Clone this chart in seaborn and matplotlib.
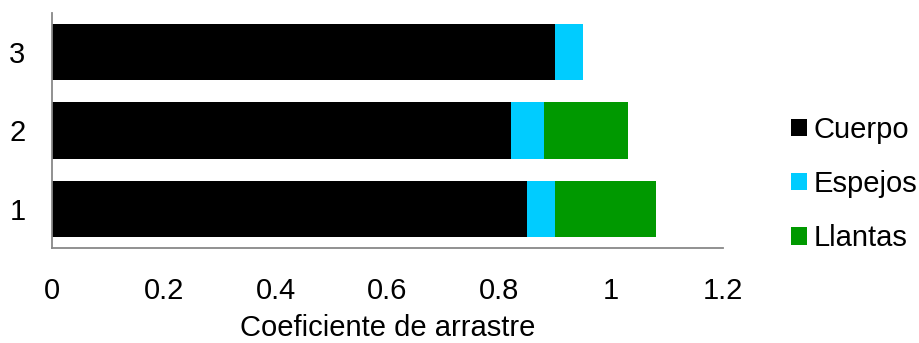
import numpy as np
import pandas as pd
import matplotlib
matplotlib.use("Agg")
import matplotlib.pyplot as plt
from matplotlib.patches import Patch
import seaborn as sns

sns.set_style("white")
plt.rcParams['font.family'] = ['Liberation Sans', 'DejaVu Sans']
plt.rcParams['text.color'] = 'black'
plt.rcParams['axes.labelcolor'] = 'black'
plt.rcParams['xtick.labelcolor'] = 'black'
plt.rcParams['ytick.labelcolor'] = 'black'

# datos
grupos = ['1', '2', '3']
cuerpo = [0.85, 0.82, 0.90]
espejos = [0.05, 0.06, 0.05]
llantas = [0.18, 0.15, 0.0]

series = ['Cuerpo', 'Espejos', 'Llantas']
colores = ['#000000', '#00CCFF', '#009900']

df = pd.DataFrame({'grupo': grupos, 'Cuerpo': cuerpo, 'Espejos': espejos, 'Llantas': llantas})
# acumulados para apilar
df['c1'] = df['Cuerpo']
df['c2'] = df['c1'] + df['Espejos']
df['c3'] = df['c2'] + df['Llantas']

fig = plt.figure(figsize=(9.19, 3.43), dpi=100)
ax = fig.add_axes([52/919, 1-248/343, (723-52)/919, (248-12.7)/343])

orden = ['3', '2', '1']
for col, c in zip(['c3', 'c2', 'c1'], colores[::-1]):
    sns.barplot(data=df, x=col, y='grupo', order=orden, color=c, width=0.72,
                linewidth=0, saturation=1, orient='h', ax=ax)

fs = 21
ax.set_xlim(0, 1.2)
ax.set_ylim(2.5, -0.5)
ax.set_xticks(np.arange(0, 1.21, 0.2))
ax.set_xticklabels(['0', '0.2', '0.4', '0.6', '0.8', '1', '1.2'])
ax.set_yticks([-0.5, 0.5, 1.5, 2.5], minor=True)
ax.tick_params(axis='y', which='major', length=0, pad=19, labelsize=fs)
ax.tick_params(axis='y', which='minor', length=7, width=1.3, color='#888888', direction='out')
ax.tick_params(axis='x', length=7, width=1.3, color='#888888', direction='out', pad=14, labelsize=fs)
ax.set_xlabel('Coeficiente de arrastre', fontsize=fs, labelpad=6)
ax.set_ylabel('')
for s in ['top', 'right']:
    ax.spines[s].set_visible(False)
for s in ['left', 'bottom']:
    ax.spines[s].set_color('#888888')
    ax.spines[s].set_linewidth(1.3)

handles = [Patch(facecolor=c, edgecolor='none', label=l) for c, l in zip(colores, series)]
fig.legend(handles=handles, loc='center left', bbox_to_anchor=(765/919, 1-184/343),
           frameon=False, fontsize=fs, handlelength=0.55, handleheight=0.55,
           handletextpad=0.2, labelspacing=0.9)

fig.savefig('out.png', dpi=100)
